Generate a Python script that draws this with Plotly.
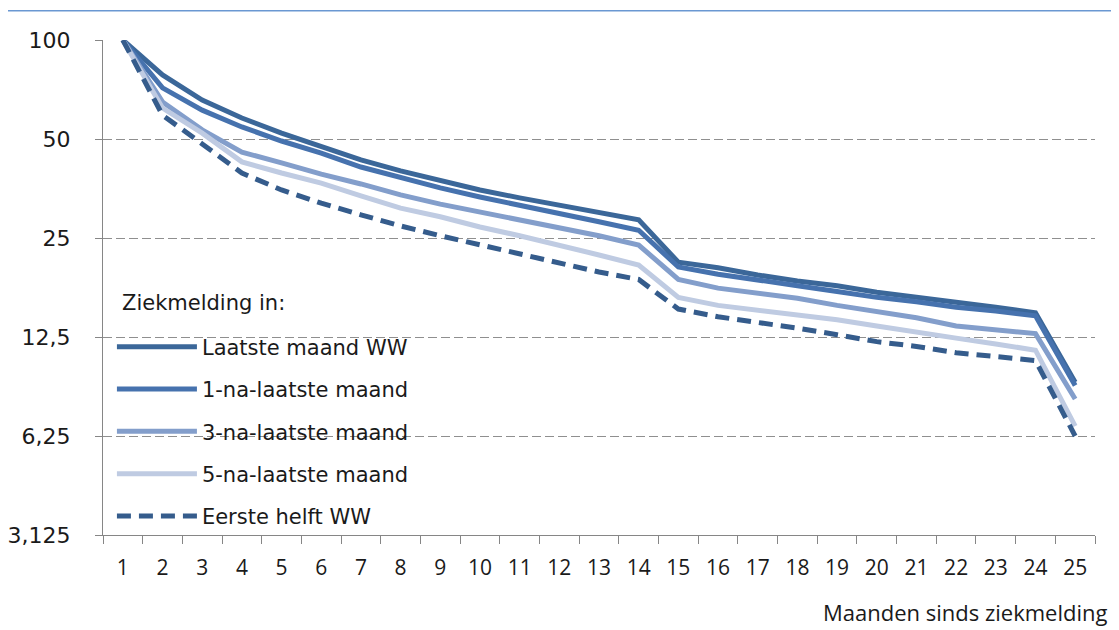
import plotly.graph_objects as go

maanden = [str(m) for m in range(1, 26)]

laatste_maand = [100, 78.3, 65.7, 57.9, 52.1, 47.3, 43.2, 40.0, 37.3, 35.0, 33.1, 31.5, 29.8, 28.4,
                 21.1, 20.3, 19.3, 18.5, 17.9, 17.1, 16.5, 16.0, 15.4, 14.8, 9.1]
een_na_laatste = [100, 71.5, 61.2, 54.4, 49.3, 45.3, 41.1, 38.1, 35.5, 33.3, 31.5, 29.8, 28.0, 26.4,
                  20.4, 19.4, 18.7, 17.9, 17.2, 16.5, 16.0, 15.4, 15.0, 14.5, 8.9]
drie_na_laatste = [100, 64.8, 53.3, 45.6, 42.3, 39.1, 36.5, 33.8, 31.7, 30.0, 28.4, 26.8, 25.4, 23.8,
                   18.7, 17.6, 17.0, 16.4, 15.6, 15.0, 14.3, 13.5, 13.2, 12.8, 8.1]
vijf_na_laatste = [100, 62.1, 52.1, 42.6, 39.4, 36.7, 33.6, 30.8, 29.0, 27.0, 25.4, 23.8, 22.2, 20.7,
                   16.5, 15.6, 15.1, 14.6, 14.1, 13.5, 12.9, 12.4, 11.9, 11.4, 6.7]
eerste_helft = [100, 59.1, 48.3, 39.4, 35.0, 31.9, 29.4, 27.2, 25.4, 23.8, 22.4, 21.0, 19.7, 18.7,
                15.2, 14.4, 13.9, 13.3, 12.7, 12.1, 11.7, 11.2, 10.9, 10.6, 6.25]

y_ticks = [3.125, 6.25, 12.5, 25, 50, 100]
y_ticktext = ["3,125", "6,25", "12,5", "25", "50", "100"]

series = [
    ("Laatste maand WW", laatste_maand, "#3b6799", "solid"),
    ("1-na-laatste maand", een_na_laatste, "#4672ae", "solid"),
    ("3-na-laatste maand", drie_na_laatste, "#839ecb", "solid"),
    ("5-na-laatste maand", vijf_na_laatste, "#bfcbe2", "solid"),
    ("Eerste helft WW", eerste_helft, "#355c8c", "dash"),
]

fig = go.Figure()
for i, (name, vals, color, dash) in enumerate(series):
    fig.add_trace(go.Scatter(
        x=maanden, y=vals, name=name, mode="lines",
        legendgroup="g%d" % i,
        line=dict(color=color, width=5, dash="14px,8px" if dash == "dash" else "solid"),
    ))

grid = "#8f8f8f"
axis = "#868686"
txt = "#1a1a1a"

# page has an 8px body margin, so the margins are shifted to compensate
fig.update_layout(
    width=1119, height=630,
    margin=dict(l=95, r=32, t=32, b=103),
    plot_bgcolor="white", paper_bgcolor="white",
    font=dict(family="DejaVu Sans", size=21, color=txt),
    showlegend=True,
    legend=dict(
        x=0.009, y=0.421, xanchor="left", yanchor="top",
        bgcolor="rgba(0,0,0,0)",
        font=dict(family="DejaVu Sans", size=21, color=txt),
        tracegroupgap=12,
        itemwidth=80,
    ),
    xaxis=dict(
        type="category", range=[-0.5, 24.5], tickson="boundaries",
        ticks="outside", ticklen=8, tickcolor=axis,
        showline=True, linecolor=axis, linewidth=1,
        showgrid=False, automargin=False, ticklabelstandoff=14,
        tickfont=dict(family="Open Sans", size=21, color=txt),
    ),
    yaxis=dict(
        type="log", range=[0.49485, 2.0], tickvals=y_ticks, ticktext=y_ticktext,
        ticks="outside", ticklen=7, tickcolor=axis,
        showline=True, linecolor=axis, linewidth=1,
        showgrid=True, gridcolor=grid, gridwidth=1, griddash="9px,4px",
        zeroline=False, automargin=False, ticklabelstandoff=20,
        tickfont=dict(family="DejaVu Sans", size=22, color=txt),
    ),
)

# legend heading
fig.add_annotation(
    text="Ziekmelding in:", xref="paper", yref="paper",
    x=0.017, y=(535 - 303) / 495, xanchor="left", yanchor="middle", showarrow=False,
    font=dict(family="DejaVu Sans", size=21, color=txt),
)

fig.add_annotation(
    text="Maanden sinds ziekmelding", xref="paper", yref="paper",
    x=1.014, y=-(612 - 535) / 495, xanchor="right", yanchor="middle", showarrow=False,
    font=dict(family="Open Sans", size=22, color=txt),
)

# thin blue rule across the top of the page
fig.add_shape(
    type="line", xref="paper", yref="paper",
    x0=-0.104, x1=1.03, y0=1.059, y1=1.059,
    line=dict(color="#6a98d2", width=1.5),
)

fig.write_html("out.html")
